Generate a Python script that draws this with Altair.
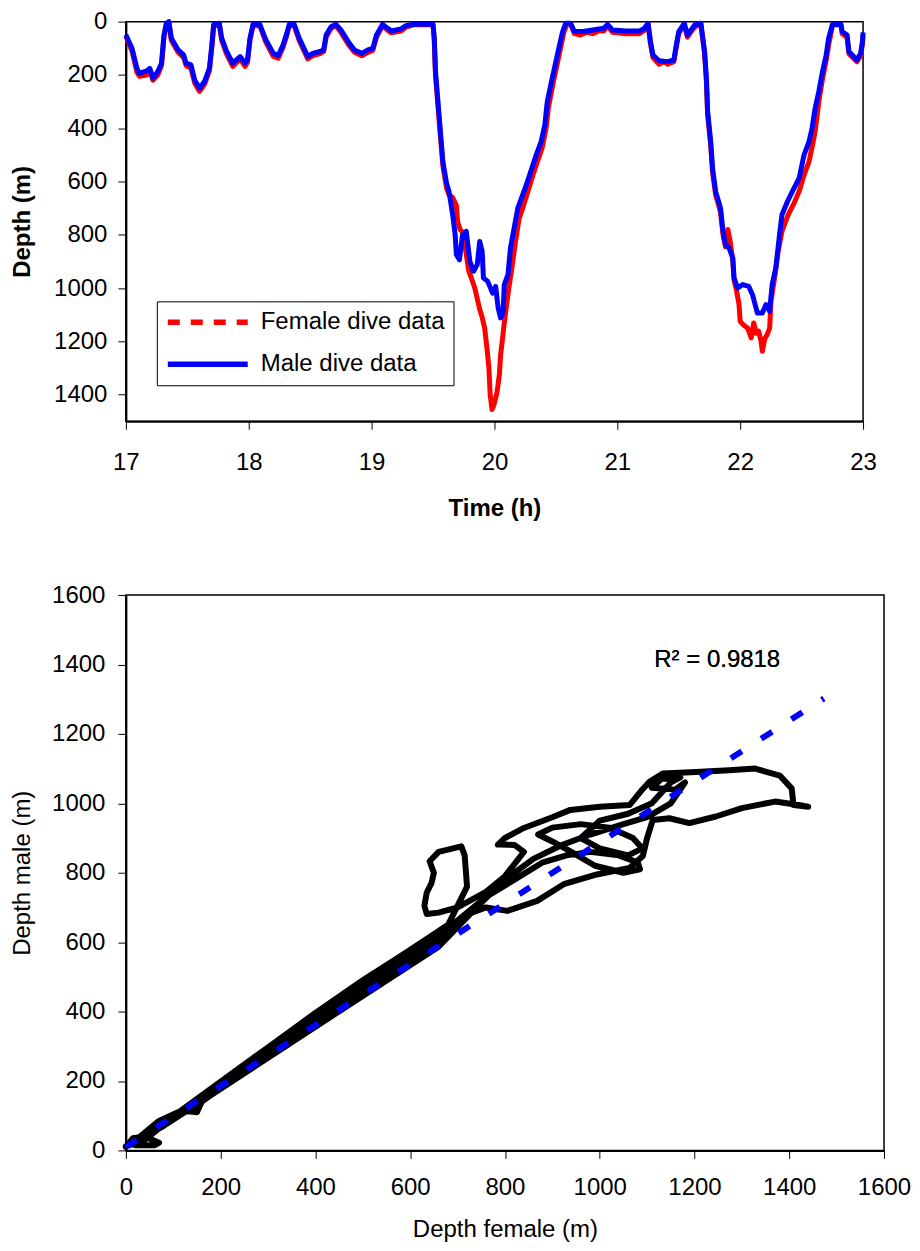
import altair as alt
import pandas as pd

FONT = "Liberation Sans"

# ---------------- top panel: depth vs time ----------------
time_male = [17.00, 17.05, 17.09, 17.11, 17.17, 17.195, 17.22, 17.26, 17.29, 17.31,
             17.33, 17.35, 17.37, 17.425, 17.47, 17.49, 17.53, 17.56, 17.60, 17.64,
             17.68, 17.70, 17.715, 17.76, 17.78, 17.82, 17.87, 17.93, 17.97, 17.99,
             18.01, 18.035, 18.09, 18.14, 18.20, 18.24, 18.28, 18.31, 18.33, 18.37,
             18.41, 18.455, 18.48, 18.52, 18.58, 18.61, 18.63, 18.67, 18.71, 18.75,
             18.81, 18.86, 18.92, 18.97, 19.01, 19.04, 19.09, 19.13, 19.16, 19.24,
             19.28, 19.34, 19.50, 19.51, 19.52, 19.54, 19.56, 19.58, 19.61, 19.63,
             19.66, 19.68, 19.69, 19.715, 19.74, 19.77, 19.80, 19.83, 19.86, 19.88,
             19.90, 19.91, 19.945, 19.985, 20.01, 20.03, 20.05, 20.07, 20.08, 20.11,
             20.13, 20.16, 20.19, 20.22, 20.26, 20.30, 20.34, 20.38, 20.41, 20.43,
             20.47, 20.50, 20.53, 20.555, 20.58, 20.62, 20.65, 20.72, 20.80, 20.89,
             20.92, 20.96, 21.07, 21.18, 21.22, 21.25, 21.27, 21.29, 21.34, 21.41,
             21.46, 21.48, 21.50, 21.545, 21.57, 21.60, 21.63, 21.68, 21.71, 21.725,
             21.735, 21.76, 21.775, 21.80, 21.84, 21.86, 21.88, 21.91, 21.94, 21.95,
             21.98, 22.02, 22.07, 22.10, 22.14, 22.18, 22.21, 22.24, 22.26, 22.29,
             22.32, 22.34, 22.385, 22.425, 22.48, 22.52, 22.56, 22.585, 22.61, 22.64,
             22.67, 22.70, 22.72, 22.75, 22.82, 22.83, 22.87, 22.885, 22.95, 22.98,
             22.995, 23.00]
depth_male = [49, 100, 175, 194, 185, 175, 212, 187, 156, 50,
              6, 0, 62, 106, 125, 156, 162, 219, 250, 225,
              175, 87, 10, 6, 62, 112, 156, 131, 156, 144,
              62, 10, 10, 69, 119, 127, 87, 44, 10, 10,
              62, 106, 131, 119, 112, 106, 50, 19, 10, 31,
              75, 106, 119, 106, 100, 50, 10, 25, 35, 27,
              15, 10, 10, 60, 187, 300, 412, 525, 606, 637,
              725, 800, 875, 894, 800, 787, 900, 937, 912, 825,
              862, 962, 975, 1019, 994, 1075, 1112, 1094, 987, 950,
              850, 775, 700, 662, 612, 556, 500, 450, 387, 300,
              212, 150, 87, 37, 6, 6, 37, 37, 31, 25,
              10, 31, 35, 35, 25, 6, 75, 125, 147, 150,
              144, 87, 37, 6, 50, 31, 12, 6, 112, 212,
              337, 450, 550, 637, 700, 787, 837, 850, 887, 962,
              1000, 987, 994, 1025, 1094, 1094, 1062, 1087, 987, 925,
              800, 725, 675, 637, 587, 500, 450, 400, 325, 262,
              187, 125, 62, 12, 10, 37, 50, 112, 144, 119,
              75, 40]

time_female = [17.00, 17.05, 17.09, 17.11, 17.17, 17.195, 17.22, 17.26, 17.29, 17.31,
               17.33, 17.35, 17.37, 17.425, 17.47, 17.49, 17.53, 17.56, 17.60, 17.64,
               17.68, 17.70, 17.715, 17.76, 17.78, 17.82, 17.87, 17.93, 17.97, 17.99,
               18.01, 18.035, 18.09, 18.14, 18.20, 18.24, 18.28, 18.31, 18.33, 18.37,
               18.41, 18.455, 18.48, 18.52, 18.58, 18.61, 18.63, 18.67, 18.71, 18.75,
               18.81, 18.86, 18.92, 18.97, 19.01, 19.04, 19.09, 19.13, 19.16, 19.24,
               19.28, 19.34, 19.50, 19.51, 19.52, 19.54, 19.56, 19.58, 19.61, 19.63,
               19.66, 19.69, 19.70, 19.72, 19.74, 19.76, 19.79, 19.81, 19.84, 19.86,
               19.88, 19.90, 19.92, 19.94, 19.955, 19.965, 19.98, 19.995, 20.00, 20.02,
               20.04, 20.05, 20.06, 20.08, 20.10, 20.12, 20.14, 20.17, 20.20, 20.23,
               20.27, 20.31, 20.35, 20.39, 20.42, 20.44, 20.48, 20.51, 20.54, 20.565,
               20.59, 20.62, 20.65, 20.70, 20.75, 20.80, 20.85, 20.89, 20.92, 20.96,
               21.07, 21.18, 21.22, 21.25, 21.27, 21.29, 21.34, 21.38, 21.41, 21.46,
               21.48, 21.50, 21.545, 21.57, 21.60, 21.63, 21.68, 21.71, 21.725, 21.735,
               21.76, 21.775, 21.80, 21.84, 21.86, 21.88, 21.90, 21.92, 21.94, 21.95,
               21.97, 21.99, 22.00, 22.03, 22.06, 22.09, 22.11, 22.13, 22.15, 22.17,
               22.18, 22.20, 22.22, 22.24, 22.25, 22.28, 22.31, 22.34, 22.39, 22.44,
               22.48, 22.52, 22.56, 22.59, 22.61, 22.64, 22.67, 22.70, 22.72, 22.745,
               22.75, 22.82, 22.83, 22.87, 22.885, 22.95, 22.98, 22.995, 23.00]
depth_female = [55, 110, 190, 205, 200, 185, 220, 200, 165, 60,
                10, 5, 70, 115, 135, 165, 175, 230, 262, 235,
                185, 95, 15, 10, 70, 122, 168, 140, 168, 152,
                70, 15, 15, 78, 130, 137, 95, 52, 15, 15,
                70, 115, 140, 128, 120, 112, 58, 25, 15, 40,
                85, 115, 128, 115, 108, 58, 15, 32, 42, 35,
                20, 12, 12, 70, 200, 315, 430, 540, 625, 650,
                660, 690, 750, 780, 790, 840, 935, 960, 1000, 1040,
                1080, 1110, 1150, 1230, 1300, 1400, 1456, 1440, 1430, 1394,
                1325, 1250, 1212, 1130, 1060, 990, 930, 830, 740, 700,
                640, 580, 525, 470, 400, 320, 225, 160, 95, 40,
                10, 10, 45, 50, 40, 45, 35, 35, 15, 40,
                45, 45, 32, 10, 85, 135, 160, 150, 160, 150,
                95, 45, 10, 58, 38, 20, 10, 120, 225, 350,
                465, 565, 650, 715, 800, 845, 780, 830, 900, 970,
                1010, 1060, 1125, 1140, 1150, 1187, 1131, 1170, 1162, 1200,
                1237, 1190, 1175, 1150, 1050, 962, 860, 787, 725, 680,
                637, 575, 525, 460, 412, 300, 215, 145, 87, 30,
                12, 12, 45, 60, 120, 150, 128, 85, 50]

series_names = ["Female dive data", "Male dive data"]
series_colors = ["#FF0000", "#0000FF"]
series_dashes = [[12, 11], [1, 0]]

time_ticks = [17, 18, 19, 20, 21, 22, 23]
depth_ticks_top = [0, 200, 400, 600, 800, 1000, 1200, 1400]

# ---------------- bottom panel: male vs female depth ----------------
path_female = [0, 15, 40, 70, 60, 20, 40, 80, 120, 150, 160, 200, 240, 200, 150, 140, 100, 70, 40, 10,
               30, 70, 110, 90, 60, 5,
               20, 100, 200, 300, 400, 500, 580, 630, 680, 720, 715, 708, 660, 641, 650, 645, 635, 630,
               635, 660, 700, 760, 800, 840, 820, 785, 800, 840, 900, 938, 1000, 1063, 1090, 1105,
               1133, 1203, 1273, 1328, 1380, 1405, 1409, 1440, 1420, 1370, 1300, 1245, 1189, 1147,
               1112, 1100, 1091, 1063, 994, 924, 868, 805, 760, 720, 680, 600, 500, 400, 300, 200,
               100, 40, 10,
               50, 200, 350, 500, 600, 680, 760, 820, 880, 930, 980, 1040, 1080, 1085, 1050, 990,
               940, 900, 870, 900, 960, 1020, 1070, 1090, 1060, 1000, 960, 1000, 1060, 1110, 1150,
               1170, 1130, 1110, 1160, 1180, 1150, 1100, 1050, 980, 920, 860, 800, 740, 660, 560,
               430, 300, 180, 80, 20, 0]
path_male = [10, 35, 40, 22, 15, 15, 30, 75, 115, 110, 140, 180, 225, 195, 145, 125, 95, 65, 45, 25,
             40, 85, 110, 85, 55, 20,
             25, 99, 198, 297, 396, 490, 560, 605, 650, 760, 850, 876, 860, 833, 800, 770, 743, 705,
             681, 685, 700, 745, 790, 860, 880, 881, 900, 929, 960, 981, 990, 995, 1040, 1062,
             1086, 1090, 1095, 1100, 1080, 1043, 995, 990, 995, 1005, 986, 962, 943, 957,
             952, 900, 848, 814, 795, 767, 719, 690, 700, 680, 625, 552, 460, 368, 276, 184,
             92, 36, 16,
             50, 190, 333, 475, 570, 640, 730, 780, 830, 850, 860, 850, 830, 810, 800, 820,
             860, 890, 910, 930, 940, 930, 900, 870, 850, 870, 900, 950, 970, 1000, 1060,
             1075, 1070, 1045, 1040, 1060, 1000, 960, 940, 910, 880, 840, 780, 700, 587, 498,
             383, 267, 160, 71, 25, 12]

reg_female = [0, 1473]
reg_male = [10, 1302]
r2_label = "R\u00b2 = 0.9818"
r2_pos = [1248, 1414]

scatter_ticks = [0, 200, 400, 600, 800, 1000, 1200, 1400, 1600]

# ---------------- data frames ----------------
female_df = pd.DataFrame({"t": time_female, "d": depth_female, "s": series_names[0]})
male_df = pd.DataFrame({"t": time_male, "d": depth_male, "s": series_names[1]})
both_df = pd.concat([female_df, male_df], ignore_index=True)
path_df = pd.DataFrame({"f": path_female, "m": path_male, "i": list(range(len(path_female)))})
reg_df = pd.DataFrame({"f": reg_female, "m": reg_male})

axis_common = dict(
    labelFont=FONT, labelFontSize=24, labelColor="black",
    titleFont=FONT, titleFontSize=24, titleColor="black",
    domainColor="black", domainWidth=2, tickColor="black", tickWidth=1, tickSize=8,
    grid=False, labelFlush=False, labelOverlap=False, format="d",
)

x_top = alt.X("t:Q", scale=alt.Scale(domain=[17, 23], nice=False, zero=False),
              axis=alt.Axis(values=time_ticks, title="Time (h)",
                            labelPadding=21, titlePadding=22, titleFontWeight="bold",
                            **axis_common))
y_top = alt.Y("d:Q", scale=alt.Scale(domain=[0, 1500], nice=False, reverse=True),
              axis=alt.Axis(values=depth_ticks_top, title="Depth (m)",
                            labelPadding=11, titlePadding=19, titleFontWeight="bold",
                            **axis_common))

female_line = alt.Chart(female_df).mark_line(color=series_colors[0], strokeWidth=5,
                                             strokeJoin="round").encode(x=x_top, y=y_top)
male_line = alt.Chart(male_df).mark_line(color=series_colors[1], strokeWidth=5,
                                         strokeJoin="round").encode(x=x_top, y=y_top)

legend_def = alt.Legend(
    title=None, orient="none", legendX=31, legendY=280, direction="vertical",
    labelFont=FONT, labelFontSize=24, labelColor="black", labelLimit=400, labelOffset=10,
    symbolType="stroke", symbolSize=6400, symbolStrokeWidth=5.5, clipHeight=26,
    rowPadding=16, padding=8, strokeColor="black", fillColor="white",
)
legend_layer = alt.Chart(both_df).transform_filter("datum.d < 0").mark_line(strokeWidth=5.5).encode(
    x=x_top, y=y_top,
    color=alt.Color("s:N", scale=alt.Scale(domain=series_names, range=series_colors), legend=legend_def),
    strokeDash=alt.StrokeDash("s:N", scale=alt.Scale(domain=series_names, range=series_dashes), legend=legend_def),
)

top = alt.layer(female_line, male_line, legend_layer).properties(width=738, height=400)

x_bot = alt.X("f:Q", scale=alt.Scale(domain=[0, 1600], nice=False),
              axis=alt.Axis(values=scatter_ticks, title="Depth female (m)",
                            labelPadding=17, titlePadding=18, titleFontWeight="normal",
                            **axis_common))
y_bot = alt.Y("m:Q", scale=alt.Scale(domain=[0, 1600], nice=False),
              axis=alt.Axis(values=scatter_ticks, title="Depth male (m)",
                            labelPadding=13, titlePadding=17, titleFontWeight="normal",
                            **axis_common))

path_line = alt.Chart(path_df).mark_line(color="black", strokeWidth=6, strokeJoin="round",
                                         strokeCap="round").encode(x=x_bot, y=y_bot, order="i:Q")
reg_line = alt.Chart(reg_df).mark_line(color="#0000FF", strokeWidth=6, strokeDash=[13, 23]).encode(
    x=x_bot, y=y_bot)
r2_text = alt.Chart(reg_df).mark_text(font=FONT, fontSize=24, color="black", align="center",
                                      baseline="middle").encode(
    x=alt.datum(r2_pos[0]), y=alt.datum(r2_pos[1]), text=alt.value(r2_label))

bottom = alt.layer(path_line, reg_line, r2_text).properties(width=759, height=556)

chart = alt.vconcat(top, bottom, spacing=61).properties(
    padding={"left": 1, "top": 0, "right": 0, "bottom": 0},
    background="white",
).configure_view(stroke="black", strokeWidth=1.5)

chart.save("out.html", embed_options={"renderer": "svg", "actions": False})
